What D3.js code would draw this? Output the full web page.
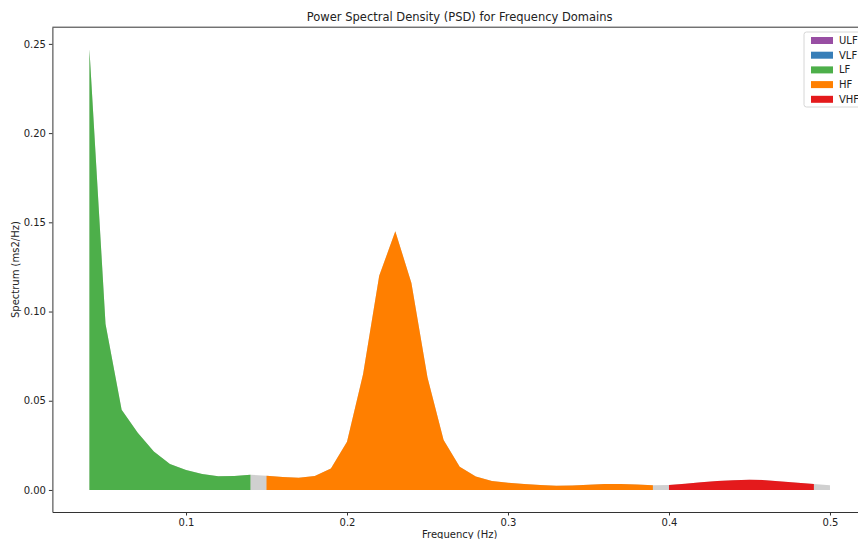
<!DOCTYPE html>
<html>
<head>
<meta charset="utf-8">
<script src="https://cdn.jsdelivr.net/npm/d3@7"></script>
<style>
  body { margin: 0; background: #fff; }
  svg { display: block; font-family: 'DejaVu Sans', sans-serif; }
</style>
</head>
<body>
<svg id="chart" width="858" height="539"></svg>
<script>
// PSD values, one per 0.01 Hz
var frequencies = d3.range( 4, 51 ).map( function( i ) { return i / 100; } );
var psdValues = [
    0.247, 0.093, 0.045, 0.032, 0.0215, 0.0145, 0.0112, 0.009, 0.0077, 0.0078,
    0.0085, 0.0080, 0.0073, 0.0068, 0.0078, 0.012, 0.027, 0.065, 0.120, 0.145,
    0.116, 0.063, 0.028, 0.013, 0.0075, 0.005, 0.004, 0.0033, 0.0028, 0.0024,
    0.0025, 0.0029, 0.0033, 0.0034, 0.0031, 0.0027, 0.0028, 0.0035, 0.0043, 0.005,
    0.0055, 0.0057, 0.0055, 0.0048, 0.004, 0.0033, 0.0026
];

var bandNames  = [ 'ULF', 'VLF', 'LF', 'HF', 'VHF' ];
var bandLow    = [ 0, 0.0033, 0.04, 0.15, 0.4 ];
var bandHigh   = [ 0.0033, 0.04, 0.15, 0.4, 0.5 ];
var bandColors = [ '#984ea3', '#377eb8', '#4daf4a', '#ff7f00', '#e41a1c' ];

var xTicks = [ 0.1, 0.2, 0.3, 0.4, 0.5 ];
var yTicks = [ 0, 0.05, 0.10, 0.15, 0.20, 0.25 ];

var data = frequencies.map( function( f, i ) {
    return { freq: f, power: psdValues[ i ] };
} );

var svg = d3.select( '#chart' );

// matplotlib style 5% margins
var xPad = ( d3.max( frequencies ) - d3.min( frequencies ) ) * 0.05,
    yPad = d3.max( psdValues ) * 0.05;

var x = d3.scaleLinear()
        .domain( [ d3.min( frequencies ) - xPad, d3.max( frequencies ) + xPad ] )
        .range( [ 52.4, 867 ] ),
    y = d3.scaleLinear()
        .domain( [ -yPad, d3.max( psdValues ) + yPad ] )
        .range( [ 512, 27.2 ] );

var area = d3.area()
    .x( function( d ) { return x( d.freq ); } )
    .y0( y( 0 ) )
    .y1( function( d ) { return y( d.power ); } );

// whole spectrum in grey underneath
svg.append( 'path' )
    .datum( data )
    .attr( 'fill', '#d0d0d0' )
    .attr( 'd', area );

bandNames.forEach( function( name, i ) {
    var pts = data.filter( function( d ) {
        return d.freq >= bandLow[ i ] - 1e-9 && d.freq < bandHigh[ i ] - 1e-9;
    } );
    if ( pts.length < 2 ) return;
    svg.append( 'path' )
        .datum( pts )
        .attr( 'fill', bandColors[ i ] )
        .attr( 'd', area );
} );

// axes
var xAxis = svg.append( 'g' )
    .attr( 'transform', 'translate(0,' + y.range()[ 0 ] + ')' )
    .call( d3.axisBottom( x ).tickValues( xTicks ).tickSizeInner( 3.5 ).tickSizeOuter( 0 ).tickPadding( 3 )
        .tickFormat( d3.format( '.1f' ) ) );

var yAxis = svg.append( 'g' )
    .attr( 'transform', 'translate(' + x.range()[ 0 ] + ',0)' )
    .call( d3.axisLeft( y ).tickValues( yTicks ).tickSizeInner( 3.5 ).tickSizeOuter( 0 ).tickPadding( 3 )
        .tickFormat( d3.format( '.2f' ) ) );

[ xAxis, yAxis ].forEach( function( g ) {
    g.select( '.domain' ).attr( 'stroke', '#333' );
    g.selectAll( '.tick line' ).attr( 'stroke', '#333' );
    g.selectAll( '.tick text' )
        .attr( 'fill', '#222' )
        .style( 'font-size', '10px' )
        .style( 'font-family', "'DejaVu Sans', sans-serif" );
} );

// top and right spines
svg.append( 'line' )
    .attr( 'x1', x.range()[ 0 ] ).attr( 'x2', x.range()[ 1 ] )
    .attr( 'y1', y.range()[ 1 ] ).attr( 'y2', y.range()[ 1 ] )
    .attr( 'stroke', '#333' );
svg.append( 'line' )
    .attr( 'x1', x.range()[ 1 ] ).attr( 'x2', x.range()[ 1 ] )
    .attr( 'y1', y.range()[ 0 ] ).attr( 'y2', y.range()[ 1 ] )
    .attr( 'stroke', '#333' );

var midX = ( x.range()[ 0 ] + x.range()[ 1 ] ) / 2;

svg.append( 'text' )
    .attr( 'x', midX )
    .attr( 'y', 21 )
    .attr( 'text-anchor', 'middle' )
    .attr( 'fill', '#222' )
    .style( 'font-size', '11.5px' )
    .text( 'Power Spectral Density (PSD) for Frequency Domains' );

svg.append( 'text' )
    .attr( 'x', midX )
    .attr( 'y', 538 )
    .attr( 'text-anchor', 'middle' )
    .attr( 'fill', '#222' )
    .style( 'font-size', '10px' )
    .text( 'Frequency (Hz)' );

svg.append( 'text' )
    .attr( 'transform', 'translate(19,' + ( ( y.range()[ 0 ] + y.range()[ 1 ] ) / 2 ) + ') rotate(-90)' )
    .attr( 'text-anchor', 'middle' )
    .attr( 'fill', '#222' )
    .style( 'font-size', '10px' )
    .text( 'Spectrum (ms2/Hz)' );

// legend
var legend = svg.append( 'g' ).attr( 'transform', 'translate(804,32)' );

legend.append( 'rect' )
    .attr( 'x', 0 ).attr( 'y', 0 )
    .attr( 'width', 62 ).attr( 'height', 75 )
    .attr( 'rx', 2.5 )
    .attr( 'fill', '#fff' )
    .attr( 'fill-opacity', 0.8 )
    .attr( 'stroke', '#d6d6d6' );

bandNames.forEach( function( name, i ) {
    var row = legend.append( 'g' ).attr( 'transform', 'translate(0,' + ( 8.5 + i * 14.7 ) + ')' );
    row.append( 'rect' )
        .attr( 'x', 7 ).attr( 'y', -3.5 )
        .attr( 'width', 22 ).attr( 'height', 7 )
        .attr( 'fill', bandColors[ i ] );
    row.append( 'text' )
        .attr( 'x', 35 ).attr( 'y', 3.5 )
        .attr( 'fill', '#222' )
        .style( 'font-size', '10px' )
        .text( name );
} );
</script>
</body>
</html>
